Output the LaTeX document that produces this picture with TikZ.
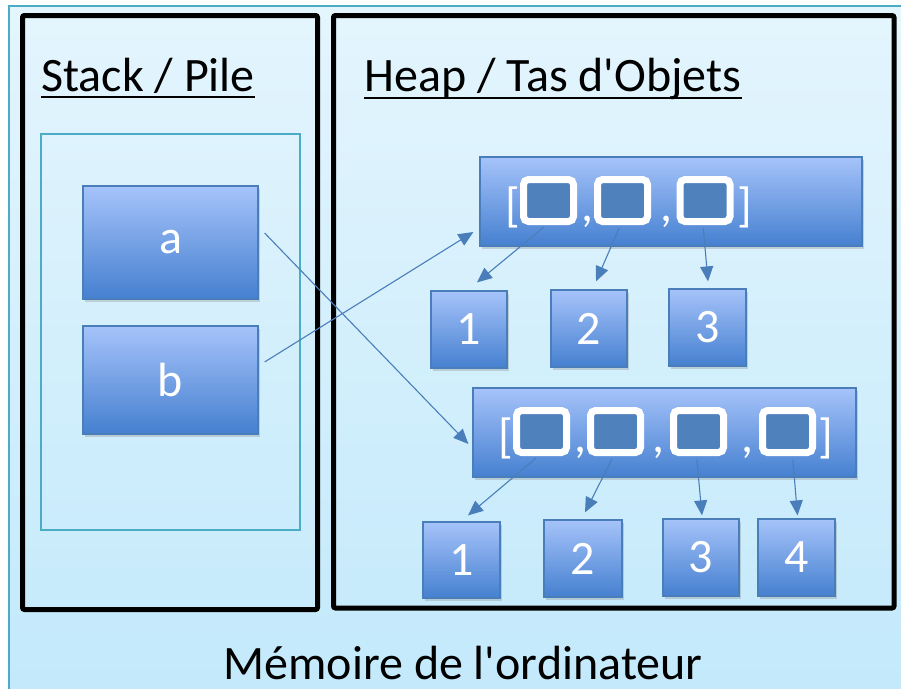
\documentclass[tikz,border=0pt]{standalone}
\usepackage{fontspec}
\setmainfont{Carlito}[Ligatures=TeXOff]
\usetikzlibrary{arrows.meta,shadows,calc}
\definecolor{bgtop}{HTML}{E4F5FD}
\definecolor{bgbot}{HTML}{C2E9FB}
\definecolor{tealb}{HTML}{4BACC6}
\definecolor{ntop}{HTML}{A6C3FA}
\definecolor{nbot}{HTML}{4580D0}
\definecolor{nborder}{HTML}{4A7EBB}
\definecolor{cellc}{HTML}{4F81BD}
\definecolor{linec}{HTML}{4A7EBB}
\begin{document}
\begin{tikzpicture}[x=1pt,y=-1pt,
  big/.style={font=\fontsize{48}{52}\selectfont},
  obj/.style={draw=nborder, line width=1.2pt, top color=ntop, bottom color=nbot,
    inner sep=0pt, text=white, big,
    drop shadow={opacity=0.3, shadow xshift=2pt, shadow yshift=-3pt}},
  cellbox/.style={draw=white, line width=7pt, fill=cellc, rounded corners=5pt,
    inner sep=0pt, minimum width=50pt, minimum height=42pt,
    drop shadow={opacity=0.25, shadow xshift=1.5pt, shadow yshift=-2pt}},
  glyph/.style={text=white, big, inner sep=0pt, anchor=base},
  frame/.style={draw=black, line width=5pt, rounded corners=2pt},
  ptr/.style={draw=linec, line width=1.1pt, -{Triangle[length=15pt,width=13pt]}},
  title/.style={big, inner sep=0pt, anchor=base west, text=black}
]
\useasboundingbox (0,0) rectangle (901,688);
% background
\path[draw=tealb, line width=1.5pt, top color=bgtop, bottom color=bgbot] (9,6) rectangle (912,700);
% frames
\draw[frame] (22.5,15.5) rectangle (317.5,609.5);
\draw[frame] (333.5,15.5) rectangle (894,608);
% titles
\node[title] (st) at (41,91) {Stack / Pile};
\draw[line width=2.8pt] ($(st.base west)+(0,6)$) -- ($(st.base east)+(0,6)$);
\node[title] (ht) at (364,91) {Heap / Tas d'Objets};
\draw[line width=2.8pt] ($(ht.base west)+(0,7)$) -- ($(ht.base east)+(0,7)$);
% stack inner rect
\draw[tealb, line width=1.5pt] (41,134) rectangle (300,530);
% stack variables
\node[obj, minimum width=175pt, minimum height=113pt] (a) at (170.5,242.5) {\raisebox{-4pt}{a}};
\node[obj, minimum width=175pt, minimum height=108pt] (b) at (170.5,380) {b};
% array 1
\node[obj, minimum width=382pt, minimum height=89pt] (arr1) at (671,201.5) {};
\node[cellbox] (c11) at (548.5,200.5) {};
\node[cellbox] (c12) at (622.5,200.5) {};
\node[cellbox] (c13) at (705,200.5) {};
\node[glyph, anchor=base west] (l1) at (505,221) {[};
\node[glyph] (k11) at (587,221) {,};
\node[glyph] (k12) at (666,221) {,};
\node[glyph, anchor=base west] (r1) at (737,221) {]};
\node[obj, minimum width=76pt, minimum height=77pt] (i1) at (469,329.5) {1};
\node[obj, minimum width=76pt, minimum height=77pt] (i2) at (589,328.5) {2};
\node[obj, minimum width=77pt, minimum height=77pt] (i3) at (707.5,327.5) {3};
% array 2
\node[obj, minimum width=383pt, minimum height=89pt] (arr2) at (664.5,432.5) {};
\node[cellbox] (c21) at (541.5,431.5) {};
\node[cellbox] (c22) at (615.5,431.5) {};
\node[cellbox] (c23) at (698.5,431.5) {};
\node[cellbox] (c24) at (787.5,431.5) {};
\node[glyph, anchor=base west] (l2) at (498,452) {[};
\node[glyph] (k21) at (580,452) {,};
\node[glyph] (k22) at (658,452) {,};
\node[glyph] (k23) at (747,452) {,};
\node[glyph, anchor=base west] (r2) at (818,452) {]};
\node[obj, minimum width=77pt, minimum height=76pt] (j1) at (461.5,560) {1};
\node[obj, minimum width=78pt, minimum height=77pt] (j2) at (583,558.5) {2};
\node[obj, minimum width=76pt, minimum height=77pt] (j3) at (701,557.5) {3};
\node[obj, minimum width=77pt, minimum height=77pt] (j4) at (796.5,557.5) {4};
% pointers from variables
\coordinate (sa) at ($(a.east)+(6,-9.5)$);
\coordinate (sb) at ($(b.east)+(6,-18)$);
\draw[ptr] (sa) -- ($(arr2.west)+(-4,11.5)$);
\draw[ptr] (sb) -- ($(arr1.west)+(-6,30.5)$);
% pointers from cells
\draw[ptr, shorten <=3.5pt] ($(c11.south)+(-2,0)$) -- ($(i1.north)+(8,-8)$);
\draw[ptr, shorten <=3.5pt] ($(c12.south)+(-2,0)$) -- ($(i2.north)+(7,-8)$);
\draw[ptr, shorten <=3.5pt] ($(c13.south)+(-2,0)$) -- ($(i3.north)+(0.5,-7)$);
\draw[ptr, shorten <=3.5pt] ($(c21.south)+(-3,0)$) -- ($(j1.north)+(6.5,-6)$);
\draw[ptr, shorten <=3.5pt] ($(c22.south)+(-2,0)$) -- ($(j2.north)+(2,-7)$);
\draw[ptr, shorten <=3.5pt] ($(c23.south)+(-2,0)$) -- ($(j3.north)+(1,-3)$);
\draw[ptr, shorten <=3.5pt] ($(c24.south)+(5,0)$) -- ($(j4.north)+(1,-3)$);
% caption
\node[big, inner sep=0pt, anchor=base] (cap) at (463,679) {Mémoire de l'ordinateur};
\end{tikzpicture}
\end{document}
